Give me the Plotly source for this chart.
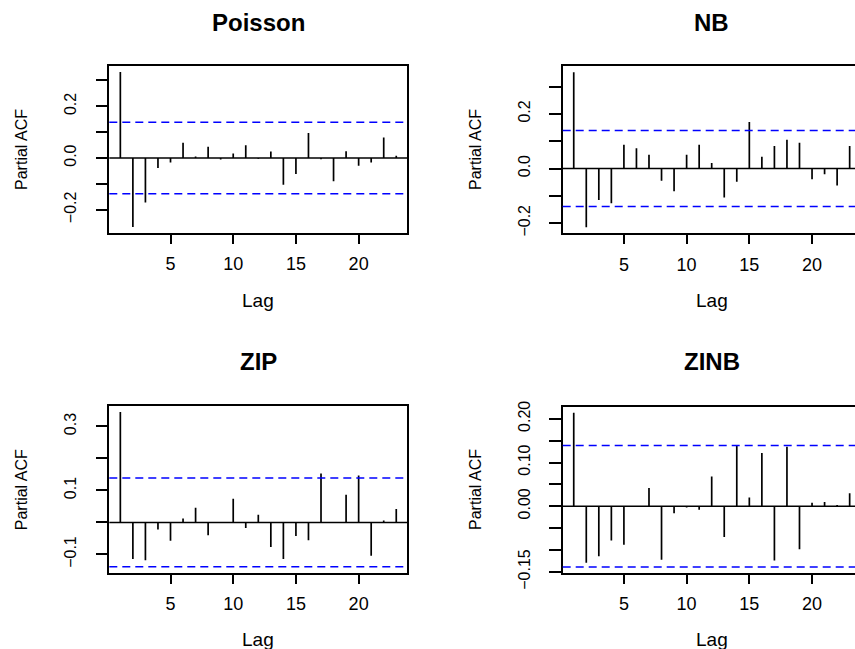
import plotly.graph_objects as go

# ---------------- data ----------------
lags = list(range(1, 24))

pacf_poisson = [0.333, -0.267, -0.172, -0.039, -0.017, 0.059, 0.006, 0.044, -0.006, 0.018,
                0.049, -0.003, 0.025, -0.103, -0.062, 0.097, -0.005, -0.090, 0.026, -0.030,
                -0.017, 0.079, 0.009]
pacf_nb = [0.352, -0.215, -0.115, -0.127, 0.087, 0.074, 0.050, -0.045, -0.083, 0.050,
           0.087, 0.020, -0.106, -0.048, 0.170, 0.043, 0.082, 0.105, 0.094, -0.039,
           -0.021, -0.062, 0.082]
pacf_zip = [0.345, -0.114, -0.118, -0.022, -0.057, 0.0125, 0.046, -0.040, -0.002, 0.074,
            -0.017, 0.024, -0.077, -0.114, -0.042, -0.056, 0.153, -0.001, 0.0865, 0.147,
            -0.104, 0.006, 0.042]
pacf_zinb = [0.214, -0.129, -0.114, -0.078, -0.088, 0.000, 0.042, -0.122, -0.016, -0.003,
             -0.008, 0.068, -0.070, 0.139, 0.020, 0.122, -0.124, 0.136, -0.098, 0.008,
             0.010, 0.003, 0.030]

conf_limit = 0.1386
titles = ["Poisson", "NB", "ZIP", "ZINB"]
series = [pacf_poisson, pacf_nb, pacf_zip, pacf_zinb]

x_ticks = [5, 10, 15, 20]
y_tickvals = [
    [-0.2, -0.1, 0.0, 0.1, 0.2, 0.3],
    [-0.2, -0.1, 0.0, 0.1, 0.2, 0.3],
    [-0.1, 0.0, 0.1, 0.2, 0.3],
    [-0.15, -0.10, -0.05, 0.0, 0.05, 0.10, 0.15, 0.20],
]
y_ticktext = [
    ["\u22120.2", "", "0.0", "", "0.2", ""],
    ["\u22120.2", "", "0.0", "", "0.2", ""],
    ["\u22120.1", "", "0.1", "", "0.3"],
    ["\u22120.15", "", "", "0.00", "", "0.10", "", "0.20"],
]

# ---------------- layout geometry (pixels) ----------------
W, H = 855, 649
LAG_PX = 298.0 / 23.76
panels = [
    dict(x0=109.3, x1=407.3, y0=65.5, y1=233.0, yr=[-0.290, 0.358]),
    dict(x0=562.7, x1=855.0, y0=66.0, y1=233.3, yr=[-0.237, 0.375]),
    dict(x0=109.3, x1=407.3, y0=406.0, y1=573.0, yr=[-0.158, 0.364]),
    dict(x0=562.7, x1=855.0, y0=406.5, y1=572.8, yr=[-0.152, 0.228]),
]

FONT = "Liberation Sans, Arial, Helvetica, sans-serif"

fig = go.Figure()
layout = dict(
    width=W, height=H, margin=dict(l=0, r=0, t=0, b=0, pad=0, autoexpand=False),
    paper_bgcolor="white", plot_bgcolor="white", showlegend=False,
    font=dict(family=FONT, color="black"),
)
shapes = []
annotations = []

for i, (p, vals) in enumerate(zip(panels, series)):
    k = "" if i == 0 else str(i + 1)
    xs, ys = [], []
    for lag, v in zip(lags, vals):
        xs += [lag, lag, None]
        ys += [0, v, None]
    fig.add_trace(go.Scatter(x=xs, y=ys, mode="lines", xaxis="x" + k, yaxis="y" + k,
                             line=dict(color="black", width=1.7), hoverinfo="skip"))
    right_full = p["x1"] < 850
    xmax = 0.12 + (p["x1"] - p["x0"]) / LAG_PX
    layout["xaxis" + k] = dict(
        domain=[p["x0"] / W, p["x1"] / W], range=[0.12, xmax], anchor="y" + k,
        automargin=False,
        showgrid=False, zeroline=False, showline=True, mirror=True,
        linecolor="black", linewidth=1.6,
        ticks="outside", ticklen=9, tickwidth=1.6, tickcolor="black",
        tickvals=x_ticks, ticktext=[str(t) for t in x_ticks],
        tickfont=dict(size=18, family=FONT), ticklabelstandoff=5,
    )
    layout["yaxis" + k] = dict(
        domain=[1 - p["y1"] / H, 1 - p["y0"] / H], range=p["yr"], anchor="x" + k,
        automargin=False,
        showgrid=False, zeroline=False, showline=True, mirror=right_full,
        linecolor="black", linewidth=1.6,
        ticks="outside", ticklen=12, tickwidth=1.6, tickcolor="black",
        tickvals=y_tickvals[i], ticktext=y_ticktext[i], tickangle=-90,
        tickfont=dict(size=16, family=FONT), ticklabelstandoff=13,
    )
    # zero line and confidence bounds
    shapes.append(dict(type="line", xref="x" + k + " domain", yref="y" + k,
                       x0=0, x1=1, y0=0, y1=0, line=dict(color="black", width=1.6)))
    for c in (conf_limit, -conf_limit):
        shapes.append(dict(type="line", xref="x" + k + " domain", yref="y" + k,
                           x0=0, x1=1, y0=c, y1=c,
                           line=dict(color="#0000FF", width=1.5, dash="8px,5px")))
    # titles / axis labels
    cx = (p["x0"] + 149.0) / W
    top = i < 2
    annotations.append(dict(text="<b>%s</b>" % titles[i], x=cx, y=1 - (22 if top else 361) / H,
                            xref="paper", yref="paper", showarrow=False,
                            xanchor="center", yanchor="middle",
                            font=dict(size=24, family=FONT)))
    annotations.append(dict(text="Lag", x=cx, y=1 - (300 if top else 639) / H,
                            xref="paper", yref="paper", showarrow=False,
                            xanchor="center", yanchor="middle",
                            font=dict(size=19, family=FONT)))
    annotations.append(dict(text="Partial ACF", x=(21.7 if i % 2 == 0 else 475.3) / W,
                            y=1 - ((p["y0"] + p["y1"]) / 2) / H,
                            xref="paper", yref="paper", showarrow=False, textangle=-90,
                            xanchor="center", yanchor="middle",
                            font=dict(size=16, family=FONT)))

layout["shapes"] = shapes
layout["annotations"] = annotations
fig.update_layout(**layout)
fig.write_html("out.html", config={"displayModeBar": False},
               post_script="document.body.style.margin='0';document.body.style.overflow='hidden';")
